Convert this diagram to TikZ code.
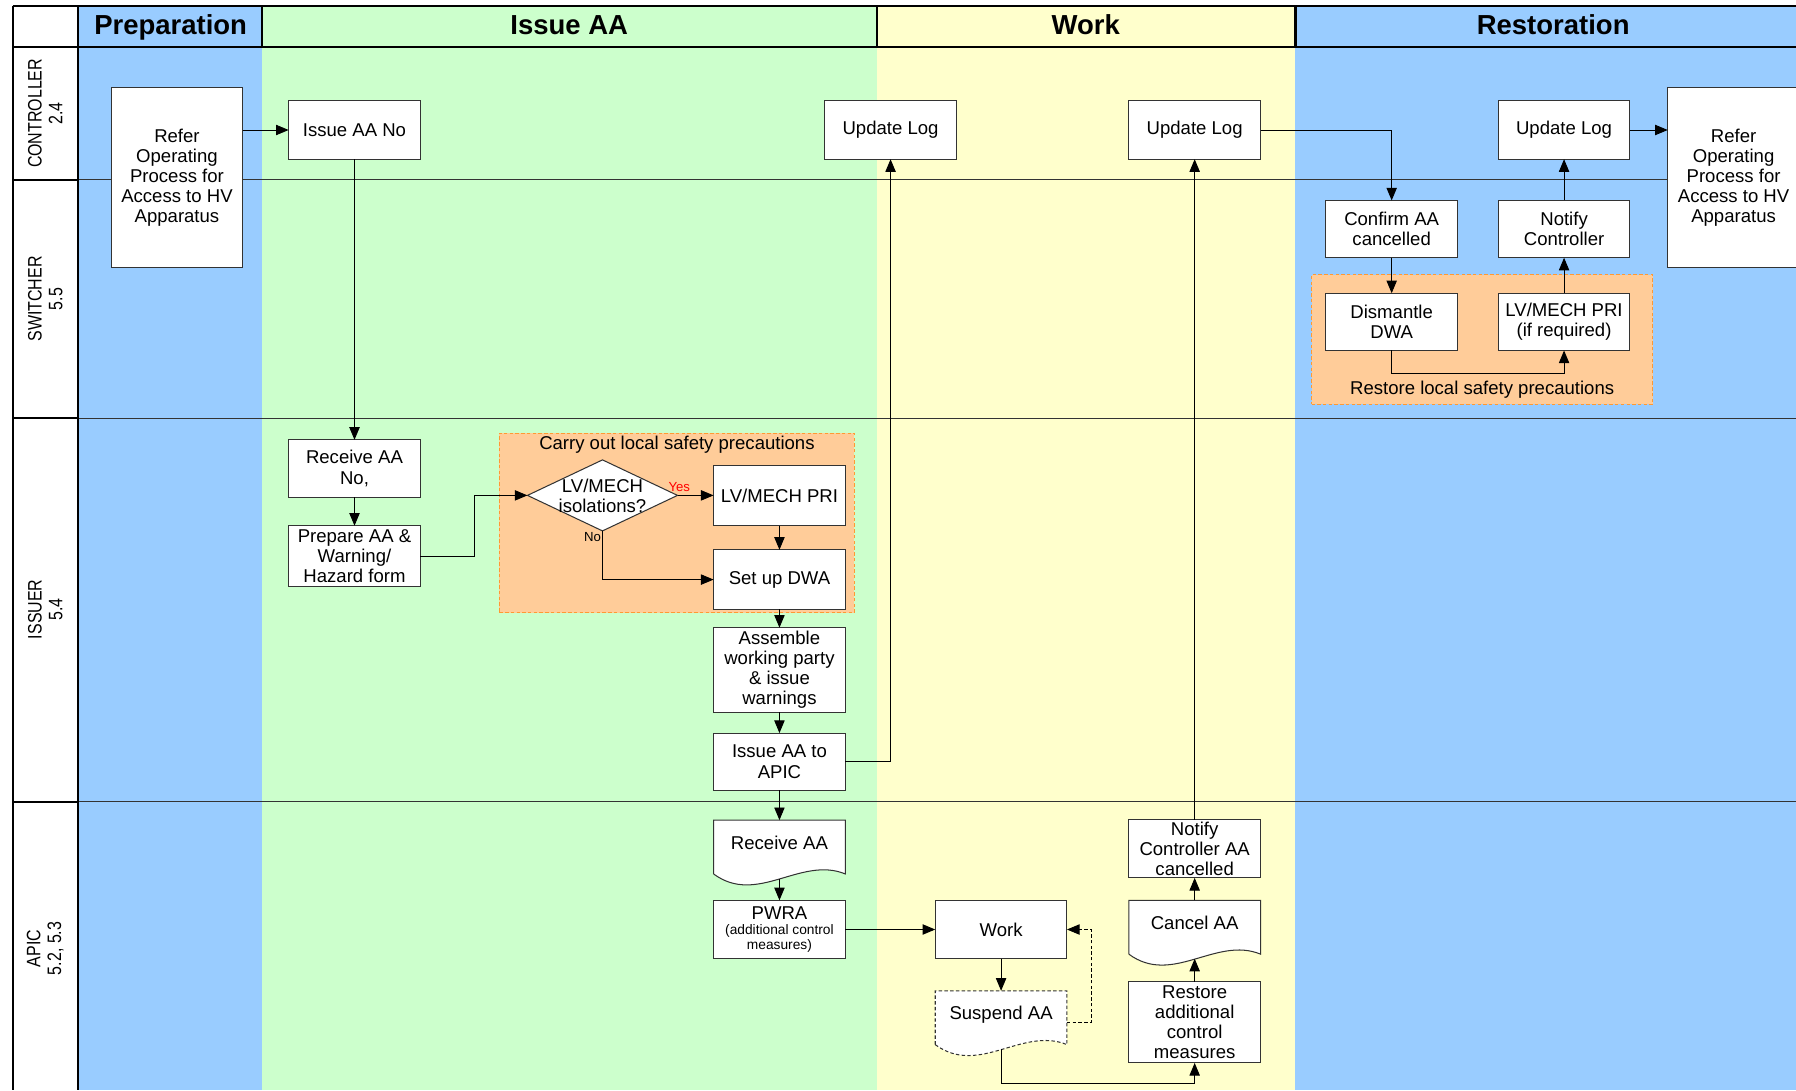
\documentclass[tikz,border=0pt]{standalone}
\usepackage{fontspec}
\setmainfont{Liberation Sans}
\newfontfamily\narrowfont[FakeStretch=0.82]{Liberation Sans}
\usetikzlibrary{arrows.meta,shapes.geometric}

\definecolor{prepblue}{HTML}{99CCFF}
\definecolor{issuegreen}{HTML}{CCFFCC}
\definecolor{workyellow}{HTML}{FFFFCC}
\definecolor{areaorange}{HTML}{FFCC99}
\definecolor{areaedge}{HTML}{FF9933}
\definecolor{boxgray}{HTML}{333333}

\newcommand{\bodyfont}{\fontsize{16.2}{17.5}\selectfont}
\newcommand{\phasefont}{\fontsize{24}{28}\selectfont\bfseries}
\newcommand{\lanefont}{\narrowfont\fontsize{17}{18}\selectfont}
\newcommand{\notefont}{\fontsize{12}{13}\selectfont}
\newcommand{\yesnofont}{\fontsize{11.5}{13}\selectfont}

\pgfdeclarelayer{back}
\pgfdeclarelayer{docs}
\pgfsetlayers{back,docs,main}

\newcommand{\docoutline}[2][]{%
  \begin{pgfonlayer}{docs}
    \draw[docline,#1] ([yshift=8pt]#2.south west) -- (#2.north west) -- (#2.north east)
      -- ([yshift=8pt]#2.south east) .. controls +(-39,-16) and +(38,28) .. ([yshift=8pt]#2.south west);
  \end{pgfonlayer}}

\begin{document}
\begin{tikzpicture}[x=1pt, y=-1pt, font=\bodyfont, >={Triangle[length=11pt,width=9pt]},
  box/.style={draw=boxgray, line width=0.9pt, fill=white, align=center, minimum width=115pt,
    minimum height=51pt, inner sep=2pt, outer sep=0pt},
  docnode/.style={minimum width=115pt, minimum height=55pt, text height=12pt, text depth=16pt,
    inner sep=0pt, outer sep=0pt},
  docline/.style={draw=boxgray, line width=0.9pt, fill=white},
  decision/.style={diamond, draw=boxgray, line width=0.9pt, fill=white, minimum width=131pt,
    minimum height=62pt, inner sep=0pt, outer sep=0pt},
  area/.style={draw=areaedge, fill=areaorange, line width=0.8pt, dash pattern=on 3pt off 2pt, inner sep=0pt},
  flow/.style={->, line width=0.8pt},
  dashflow/.style={flow, dash pattern=on 3pt off 2pt},
  laneline/.style={draw=boxgray, line width=0.8pt},
  frame/.style={line width=1.8pt},
  lanelabel/.style={rotate=90, align=center, font=\lanefont},
  phase/.style={font=\phasefont, anchor=base},
  yesno/.style={font=\yesnofont, inner sep=1pt}]
  \useasboundingbox (0,0) rectangle (1568,952);

  \begin{pgfonlayer}{back}
    \fill[prepblue]   (68,5)   rectangle (229,952);
    \fill[issuegreen] (229,5)  rectangle (766,952);
    \fill[workyellow] (766,5)  rectangle (1131,952);
    \fill[prepblue]   (1131,5) rectangle (1568,952);
    \draw[laneline] (68,157) -- (1568,157);
    \draw[laneline] (68,365) -- (1568,365);
    \draw[laneline] (68,700) -- (1568,700);
    \node[area, minimum width=310pt, minimum height=157pt] (issueArea) at (591,456.5) {};
    \node[area, minimum width=298pt, minimum height=113pt] (restArea)  at (1294,296.5) {};
  \end{pgfonlayer}

  % frame and header
  \draw[frame] (11,5) -- (1568,5);
  \draw[frame] (11,5) -- (11,952);
  \draw[frame] (68,5) -- (68,952);
  \draw[line width=1.5pt] (11,41) -- (1568,41);
  \draw[frame] (229,5)  -- (229,41);
  \draw[frame] (766,5)  -- (766,41);
  \draw[frame] (1131,5) -- (1131,41);
  \draw[frame] (11,157) -- (68,157);
  \draw[frame] (11,365) -- (68,365);
  \draw[frame] (11,700) -- (68,700);

  \node[phase] (prepHead)  at (149,30.5)  {Preparation};
  \node[phase] (issueHead) at (497,30.5)  {Issue AA};
  \node[phase] (workHead)  at (948,30.5)  {Work};
  \node[phase] (restHead)  at (1356,30.5) {Restoration};

  \node[lanelabel] (ctrlLab) at (39.5,99)  {CONTROLLER\\2.4};
  \node[lanelabel] (swLab)   at (39.5,261) {SWITCHER\\5.5};
  \node[lanelabel] (issLab)  at (39.5,532) {ISSUER\\5.4};
  \node[lanelabel] (apicLab) at (39.5,828) {APIC\\5.2, 5.3};

  \node (issueAreaLab) at (591,388)  {Carry out local safety precautions};
  \node (restAreaLab)  at (1294,340) {Restore local safety precautions};

  % controller and switcher
  \node[box, minimum height=157pt] (refer1) at (154.5,155) {Refer\\Operating\\Process for\\Access to HV\\Apparatus};
  \node[box] (issueNo) at (309.5,113.5) {Issue AA No};
  \node[box] (upd1)    at (777.5,113.5) {Update Log};
  \node[box] (upd2)    at (1043,113.5)  {Update Log};
  \node[box] (upd3)    at (1365.5,113.5) {Update Log};
  \node[box, minimum height=157pt] (refer2) at (1513.5,155) {Refer\\Operating\\Process for\\Access to HV\\Apparatus};
  \node[box, minimum height=50pt] (confirm)   at (1215,200)   {Confirm AA\\cancelled};
  \node[box, minimum height=50pt] (notify)    at (1365.5,200) {Notify\\Controller};
  \node[box, minimum height=50pt] (dismantle) at (1215,281)   {Dismantle\\DWA};
  \node[box, minimum height=50pt] (lvpriB)    at (1365.5,281) {LV/MECH PRI\\(if required)};

  % issuer
  \node[box, minimum height=50pt] (recvNo) at (309.5,409)   {Receive AA\\No,};
  \node[box, minimum height=53pt] (prep)   at (309.5,485.5) {Prepare AA \&\\Warning/\\Hazard form};
  \node[decision, label={[align=center]center:LV/MECH\\isolations?}] (isol) at (526,432.5) {};
  \node[box, minimum height=53pt] (lvpriA)    at (680.5,432.5) {LV/MECH PRI};
  \node[box, minimum height=52pt] (setup)     at (680.5,506)   {Set up DWA};
  \node[box, minimum height=74pt] (assemble)  at (680.5,585)   {Assemble\\working party\\\& issue\\warnings};
  \node[box, minimum height=50pt] (issueAPIC) at (680.5,665)   {Issue AA to\\APIC};

  % apic
  \node[docnode] (recvAA)  at (680.5,743.5) {Receive AA};
  \node[docnode] (suspend) at (874,892.5)   {Suspend AA};
  \node[docnode] (cancel)  at (1043,813.5)  {Cancel AA};
  \docoutline{recvAA}
  \docoutline[dash pattern=on 3pt off 2pt]{suspend}
  \docoutline{cancel}
  \node[box] (pwra) at (680.5,811.5) {PWRA\\[-4pt]\notefont (additional control\\[-4pt]\notefont measures)};
  \node[box] (work) at (874,811.5)   {Work};
  \node[box, minimum height=50pt] (notifyAA) at (1043,741)   {Notify\\Controller AA\\cancelled};
  \node[box, minimum height=71pt] (restore)  at (1043,892.5) {Restore\\additional\\control\\measures};

  \draw[flow] (refer1.east |- issueNo.west) -- (issueNo.west);
  \draw[flow] (issueNo) -- (recvNo);
  \draw[flow] (recvNo) -- (prep);
  \draw[flow] (prep.east) -- ++(47,0) |- (isol.west);
  \draw[flow] (isol.east) -- (lvpriA.west) node[yesno, pos=0.05, above=2pt, text=red] {Yes};
  \draw[flow] (isol.south) |- (setup.west) node[yesno, pos=0, anchor=north east] {No};
  \draw[flow] (lvpriA) -- (setup);
  \draw[flow] (setup) -- (assemble);
  \draw[flow] (assemble) -- (issueAPIC);
  \draw[flow] (issueAPIC.east) -| (upd1.south);
  \draw[flow] (issueAPIC) -- (recvAA);
  \draw[flow] ([yshift=4pt]recvAA.south) -- (pwra);
  \draw[flow] (pwra) -- (work);
  \draw[flow] (work) -- (suspend);
  \draw[dashflow] (suspend.east) -- ++(21,0) |- (work.east);
  \draw[flow] ([yshift=4pt]suspend.south) -- ++(0,30) -| (restore.south);
  \draw[flow] (restore) -- ([yshift=4pt]cancel.south);
  \draw[flow] (cancel) -- (notifyAA);
  \draw[flow] (notifyAA) -- (upd2);
  \draw[flow] (upd2.east) -| (confirm.north);
  \draw[flow] (confirm) -- (dismantle);
  \draw[flow] (dismantle.south) -- ++(0,20) -| (lvpriB.south);
  \draw[flow] (lvpriB) -- (notify);
  \draw[flow] (notify) -- (upd3);
  \draw[flow] (upd3) -- (refer2.west |- upd3.east);
\end{tikzpicture}
\end{document}
